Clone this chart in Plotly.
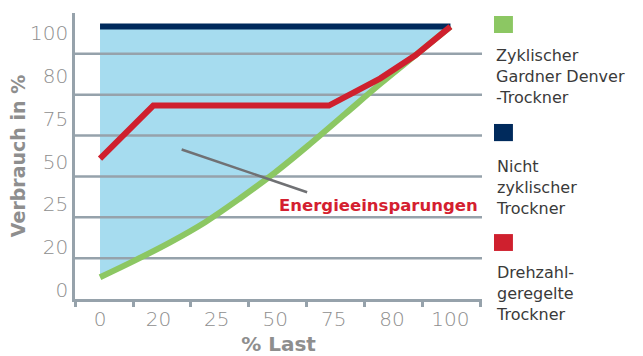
import plotly.graph_objects as go

# ---- data ----
x_labels = ["0", "20", "25", "50", "75", "80", "100"]
y_labels = ["0", "20", "25", "50", "75", "80", "100"]

green_x = [0, 10, 20, 30, 40, 50, 60, 70, 80, 90, 100]
green_y = [8, 14.2, 20.8, 28.2, 37, 46.5, 57, 68, 79, 89.5, 100]

navy_x = [0, 100]
navy_y = [100, 100]

red_x = [0, 15.2, 65.3, 80, 90, 100]
red_y = [51.5, 71, 71, 81, 89.5, 100]

names = ["Zyklischer<br>Gardner Denver<br>-Trockner",
         "Nicht<br>zyklischer<br>Trockner",
         "Drehzahl-<br>geregelte<br>Trockner"]
note_text = "Energieeinsparungen"

# ---- style ----
GREEN = "#8cc763"
NAVY = "#002a5c"
RED = "#cf202e"
FILL = "#a6dcef"
GRID = "#96a2ab"
TICKC = "#8e8e8e"
LW = 6

XR = [-7.14, 109.0]
YR = [0, 105]
grid_vals = [15, 30, 45, 60, 75, 90]
x_label_pos = [i * 100 / 6 for i in range(len(x_labels))]
y_label_pos = [3.3 + 15.7 * i for i in range(len(y_labels))]

fig = go.Figure()

# fill region between non-cyclic (top) and cyclic (bottom)
fig.add_trace(go.Scatter(x=green_x, y=green_y, mode="lines", line=dict(width=0, shape="spline"),
                         showlegend=False, hoverinfo="skip"))
fig.add_trace(go.Scatter(x=navy_x, y=navy_y, mode="lines", line=dict(width=0),
                         fill="tonexty", fillcolor=FILL, showlegend=False, hoverinfo="skip"))

# gridlines above fill, below data lines
gx, gy = [], []
for v in grid_vals:
    gx += [XR[0], XR[1], None]
    gy += [v, v, None]
fig.add_trace(go.Scatter(x=gx, y=gy, mode="lines", line=dict(color=GRID, width=2.5),
                         showlegend=False, hoverinfo="skip"))

fig.add_trace(go.Scatter(x=green_x, y=green_y, mode="lines",
                         line=dict(color=GREEN, width=LW, shape="spline"),
                         name=names[0], showlegend=False))
fig.add_trace(go.Scatter(x=navy_x, y=navy_y, mode="lines",
                         line=dict(color=NAVY, width=LW),
                         name=names[1], showlegend=False))
fig.add_trace(go.Scatter(x=red_x, y=red_y, mode="lines",
                         line=dict(color=RED, width=LW),
                         name=names[2], showlegend=False))

# pointer + label
fig.add_shape(type="line", x0=23.3, y0=54.9, x1=59.1, y1=39.2, xref="x", yref="y",
              line=dict(color="#707174", width=2.5), layer="above")
fig.add_annotation(x=79.5, y=34.5, xref="x", yref="y", text="<b>%s</b>" % note_text,
                   showarrow=False, font=dict(family="DejaVu Sans", size=16.5, color="#d41f30"),
                   xanchor="center", yanchor="middle")

# custom legend (square above text)
sq_y = [(0.9895, 0.930), (0.612, 0.552), (0.227, 0.168)]
txt_y = [0.89, 0.505, 0.132]
colors = [GREEN, NAVY, RED]
for c, (y1, y0), ty, nm in zip(colors, sq_y, txt_y, names):
    fig.add_shape(type="rect", xref="paper", yref="paper", x0=1.0295, x1=1.076, y0=y0, y1=y1,
                  fillcolor=c, line=dict(width=0))
    fig.add_annotation(xref="paper", yref="paper", x=1.03, y=ty, text=nm, showarrow=False,
                       xanchor="left", yanchor="top", align="left",
                       font=dict(family="DejaVu Sans", size=16, color="#3a3a3a"))

fig.update_layout(
    width=643, height=356,
    margin=dict(l=75, r=161, t=13, b=57),
    plot_bgcolor="white", paper_bgcolor="white",
    showlegend=False,
    font=dict(family="DejaVu Sans", color=TICKC),
)
fig.update_xaxes(
    range=XR, showgrid=False, zeroline=False,
    showline=True, linecolor=GRID, linewidth=2.5,
    tickmode="array", tickvals=x_label_pos, ticktext=x_labels,
    ticks="", ticklabelstandoff=0,
    tickfont=dict(size=20, color=TICKC, weight=300),
    minor=dict(tick0=-7.1, dtick=16.52, ticks="outside", ticklen=5, tickwidth=2.5,
               tickcolor=GRID, showgrid=False),
    title=dict(text="<b>% Last</b>", font=dict(size=20, color=TICKC), standoff=22),
    automargin=False,
)
fig.update_yaxes(
    range=YR, showgrid=False, zeroline=False,
    showline=True, linecolor=GRID, linewidth=2.5,
    tickmode="array", tickvals=y_label_pos, ticktext=y_labels,
    ticks="", ticklabelstandoff=0,
    tickfont=dict(size=20, color=TICKC, weight=300),
    title=dict(text="<b>Verbrauch in %</b>", font=dict(size=19, color=TICKC), standoff=0),
    automargin=False,
)

fig.write_html("out.html")
